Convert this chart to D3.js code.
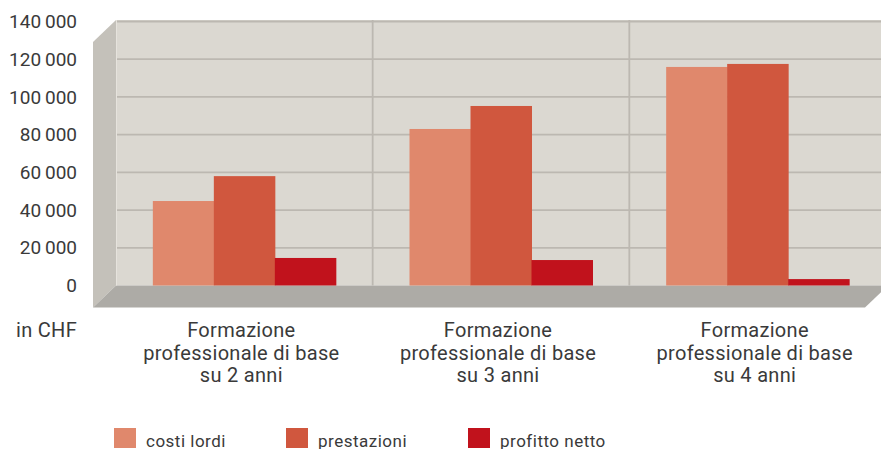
<!DOCTYPE html>
<html>
<head>
<meta charset="utf-8">
<script src="https://cdn.jsdelivr.net/npm/d3@7"></script>
<style>
  html, body { margin: 0; padding: 0; background: #fff; }
  svg { display: block; font-family: Roboto, "Noto Sans", sans-serif; }
</style>
</head>
<body>
<svg id="chart" width="881" height="449"></svg>
<script>
// ---- data ----
const categories = [
  ["Formazione", "professionale di base", "su 2 anni"],
  ["Formazione", "professionale di base", "su 3 anni"],
  ["Formazione", "professionale di base", "su 4 anni"]
];
const seriesNames = ["costi lordi", "prestazioni", "profitto netto"];
const costiLordi   = [44800, 83000, 115900];
const prestazioni  = [58000, 95200, 117500];
const profittoNetto = [14600, 13500, 3400];
const yTicks = [0, 20000, 40000, 60000, 80000, 100000, 120000, 140000];
const unitLabel = "in CHF";

const seriesValues = [costiLordi, prestazioni, profittoNetto];
const colors = ["#e0886c", "#d0573e", "#c1121c"];

// ---- layout ----
const svg = d3.select("#chart");
const wallLeft = 116, wallRight = 886, depthX = 23, depthY = 22;
const y = d3.scaleLinear().domain([0, 140000]).range([285.5, 21.5]);
const x0 = d3.scaleBand().domain(d3.range(categories.length)).range([wallLeft, wallRight]).paddingInner(0).paddingOuter(0);
const x1 = d3.scaleBand().domain(d3.range(seriesNames.length)).range([0, x0.bandwidth()]).paddingInner(0).paddingOuter(0.604);

const yTop = y(140000) - 1.5, yZero = y(0);

// back wall
svg.append("rect").attr("x", wallLeft).attr("y", yTop).attr("width", 881 - wallLeft).attr("height", yZero - yTop).attr("fill", "#dbd8d1");
// left side panel
svg.append("polygon")
  .attr("points", [[wallLeft - depthX, yTop + depthY], [wallLeft, yTop], [wallLeft, yZero], [wallLeft - depthX, yZero + depthY]].join(" "))
  .attr("fill", "#c4c1ba");
// floor
svg.append("polygon")
  .attr("points", [[wallLeft, yZero], [wallRight + 2, yZero], [wallRight + 2 - depthX, yZero + depthY], [wallLeft - depthX, yZero + depthY]].join(" "))
  .attr("fill", "#adaba6");

// horizontal grid
svg.append("g").selectAll("line").data(yTicks.filter(d => d > 0)).join("line")
  .attr("x1", wallLeft).attr("x2", 881)
  .attr("y1", d => y(d)).attr("y2", d => y(d))
  .attr("stroke", "#bcb8b1").attr("stroke-width", 1.8);
// vertical grid at category boundaries
svg.append("g").selectAll("line").data(d3.range(1, categories.length)).join("line")
  .attr("x1", d => x0(d)).attr("x2", d => x0(d))
  .attr("y1", yTop).attr("y2", yZero)
  .attr("stroke", "#bcb8b1").attr("stroke-width", 1.8);
// left wall edge highlight
svg.append("line").attr("x1", wallLeft + 0.5).attr("x2", wallLeft + 0.5).attr("y1", yTop).attr("y2", yZero)
  .attr("stroke", "#e6e3dd").attr("stroke-width", 1);

// bars
const groups = svg.append("g").selectAll("g").data(categories).join("g")
  .attr("transform", (d, i) => `translate(${x0(i)},0)`);
groups.selectAll("rect").data((d, i) => seriesValues.map((s, k) => ({k, v: s[i]}))).join("rect")
  .attr("x", d => x1(d.k)).attr("width", x1.bandwidth() + 0.5)
  .attr("y", d => y(d.v)).attr("height", d => yZero - y(d.v))
  .attr("fill", d => colors[d.k]);

// y axis labels
const fmt = d3.formatLocale({decimal: ".", thousands: "\u2009", grouping: [3], currency: ["", ""]}).format(",");
const yAxis = d3.axisLeft(y).tickValues(yTicks).tickSize(0).tickPadding(0).tickFormat(fmt);
const gy = svg.append("g").attr("transform", "translate(77,0)").call(yAxis);
gy.select(".domain").remove();
gy.selectAll("text").attr("font-size", 19).attr("fill", "#3a3a3a").attr("font-family", "Roboto");

svg.append("text").attr("x", 77).attr("y", 337).attr("text-anchor", "end")
  .attr("font-size", 20).attr("letter-spacing", 0.3).attr("fill", "#3a3a3a").text(unitLabel);

// category labels
const cat = svg.append("g").selectAll("text").data(categories).join("text")
  .attr("text-anchor", "middle").attr("font-size", 20).attr("letter-spacing", 0.3).attr("fill", "#3a3a3a")
  .attr("transform", (d, i) => `translate(${x0(i) + x0.bandwidth() / 2 - 3},337)`);
cat.selectAll("tspan").data(d => d).join("tspan")
  .attr("x", 0).attr("y", (d, j) => j * 22.5).text(d => d);

// legend
const legendX = [114, 286, 468];
const lg = svg.append("g").selectAll("g").data(seriesNames).join("g")
  .attr("transform", (d, i) => `translate(${legendX[i]},428)`);
lg.append("rect").attr("width", 22).attr("height", 20).attr("fill", (d, i) => colors[i]);
lg.append("text").attr("x", 32).attr("y", 18.5).attr("font-size", 17).attr("letter-spacing", 0.5)
  .attr("fill", "#3a3a3a").text(d => d);
</script>
</body>
</html>
